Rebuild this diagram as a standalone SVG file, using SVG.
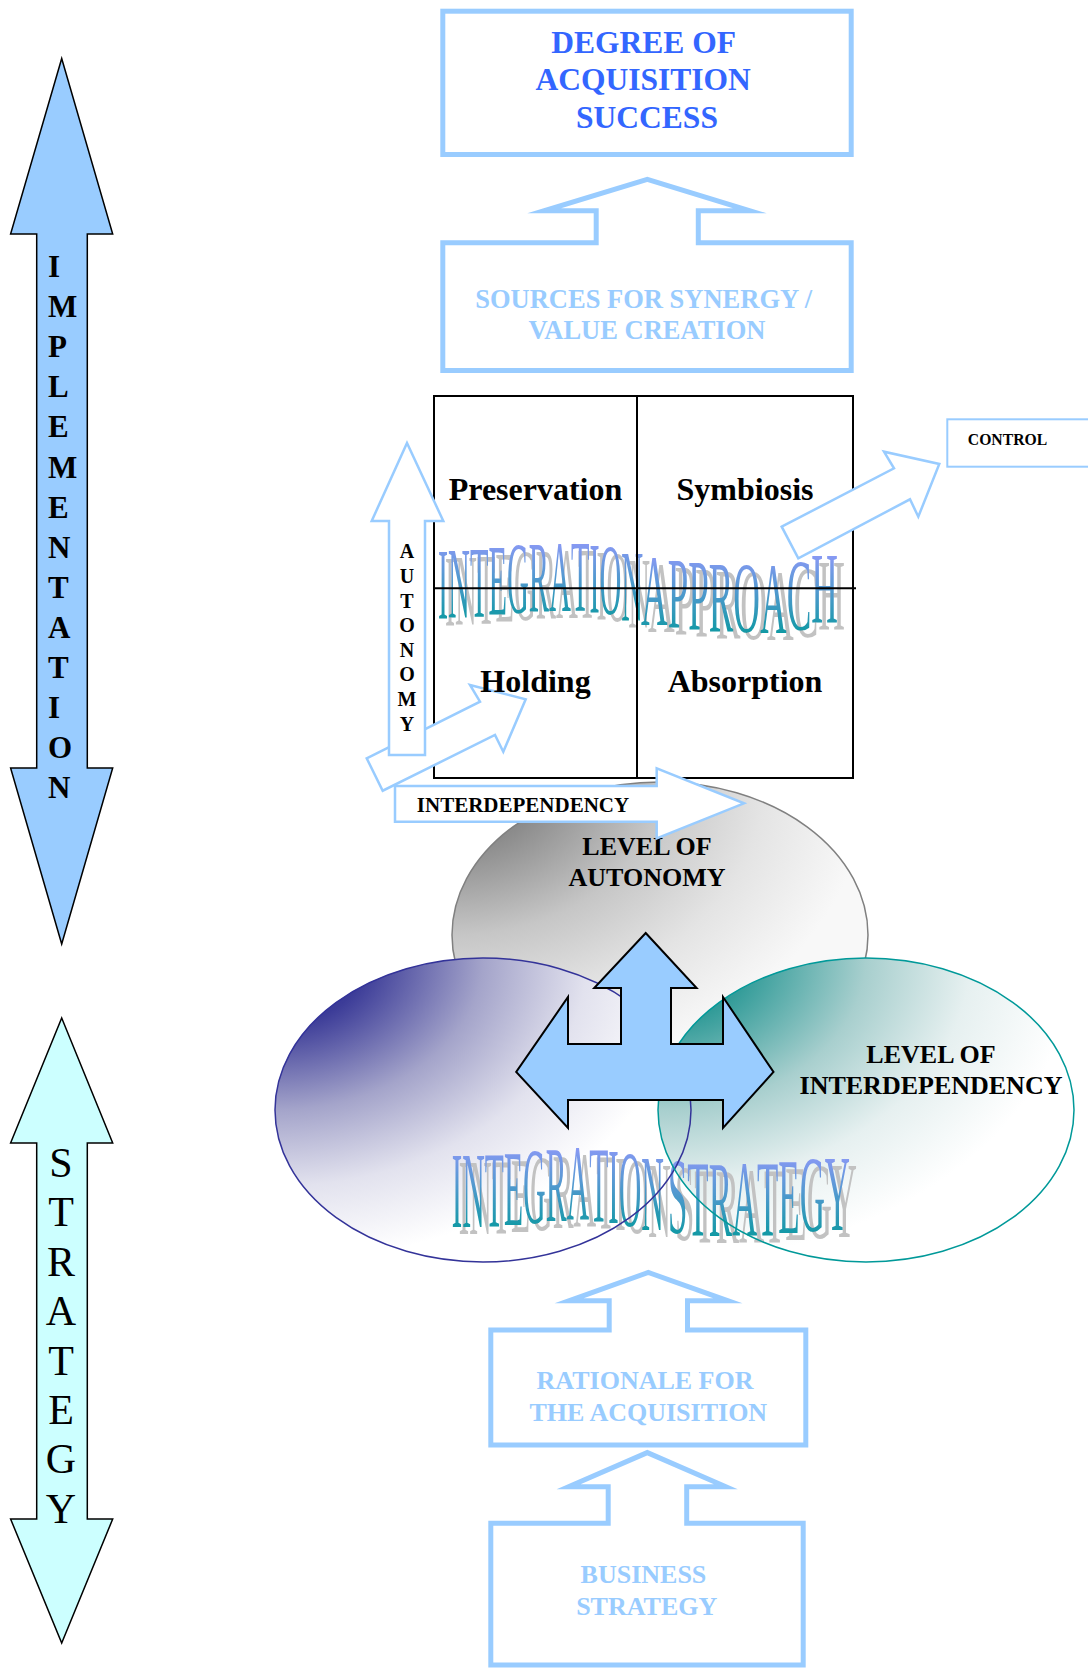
<svg xmlns="http://www.w3.org/2000/svg" width="1088" height="1668" viewBox="0 0 1088 1668">
<style>
  text{font-family:"Liberation Serif","Times New Roman",serif}
  .b{font-weight:bold}
  .mid{text-anchor:middle}
  .thick{fill:#fff;stroke:#99CCFF;stroke-width:5;stroke-miterlimit:12}
  .hollow{fill:#fff;stroke:#99CCFF;stroke-width:2.5;stroke-miterlimit:10}
  .grid{fill:none;stroke:#000;stroke-width:2}
  .cell{font-size:32px;font-weight:bold;text-anchor:middle;fill:#000}
  .pale{fill:#99CCFF;font-weight:bold;text-anchor:middle}
  .lvl{font-size:26px;font-weight:bold;text-anchor:middle;fill:#000}
  .wa{fill:url(#waGrad)}
</style>
<defs>
  <linearGradient id="waGrad" x1="0" y1="0" x2="0" y2="1">
    <stop offset="0.1" stop-color="#9999FF"/>
    <stop offset="0.9" stop-color="#009999"/>
  </linearGradient>
  <filter id="waShadow">
    <feOffset in="SourceAlpha" dx="7" dy="7" result="off"/>
    <feFlood flood-color="#C2C2C2"/>
    <feComposite in2="off" operator="in" result="sh"/>
    <feMerge><feMergeNode in="sh"/><feMergeNode in="SourceGraphic"/></feMerge>
  </filter>
  <radialGradient id="gTop" cx="0" cy="0" r="1" fx="0" fy="0">
    <stop offset="0" stop-color="#6E6E6E"/>
    <stop offset="0.22" stop-color="#8C8C8C"/>
    <stop offset="0.5" stop-color="#C6C6C6"/>
    <stop offset="0.75" stop-color="#E4E4E4"/>
    <stop offset="1" stop-color="#F8F8F8"/>
  </radialGradient>
  <radialGradient id="gLeft" cx="0" cy="0" r="1" fx="0" fy="0">
    <stop offset="0" stop-color="#2A2A8C"/>
    <stop offset="0.22" stop-color="#3C3C98"/>
    <stop offset="0.5" stop-color="#A4A4CA"/>
    <stop offset="0.75" stop-color="#E2E2EE"/>
    <stop offset="1" stop-color="#FFFFFF"/>
  </radialGradient>
  <radialGradient id="gRight" cx="0" cy="0" r="1" fx="0" fy="0">
    <stop offset="0" stop-color="#008C8A"/>
    <stop offset="0.22" stop-color="#339C99"/>
    <stop offset="0.5" stop-color="#A8CFCE"/>
    <stop offset="0.75" stop-color="#E6F0F0"/>
    <stop offset="1" stop-color="#FFFFFF"/>
  </radialGradient>
</defs>

<g id="implementation-arrow">
  <polygon points="61.7,58.5 112.7,234 87.3,234 87.3,768 112.7,768 61.7,944 10.6,768 36.7,768 36.7,234 10.6,234" fill="#99CCFF" stroke="#000" stroke-width="1.5"/>
  <text class="b" font-size="31" fill="#000" x="48 48 48 48 48 48 48 48 48 48 48 48 48 48" y="277 317.1 357.2 397.3 437.4 477.5 517.6 557.7 597.8 637.9 678 718.1 758.2 798.3">IMPLEMENTATION</text>
</g>

<g id="strategy-arrow">
  <polygon points="61.7,1018 112.7,1143 87.3,1143 87.3,1519 112.7,1519 61.7,1643 10.6,1519 36.7,1519 36.7,1143 10.6,1143" fill="#CCFFFF" stroke="#000" stroke-width="1.5"/>
  <text class="mid" font-size="42" fill="#000" x="61 61 61 61 61 61 61 61" y="1177 1226.4 1275.8 1325.2 1374.6 1424 1473.4 1522.8">STRATEGY</text>
</g>

<g id="degree-of-acquisition-success">
  <rect x="442.8" y="11.2" width="408.4" height="143.3" class="thick"/>
  <text class="b mid" font-size="31.5" fill="#3366FF">
    <tspan x="647" y="53.3">DEGREE OF</tspan>
    <tspan x="647" y="90">ACQUISITION</tspan>
    <tspan x="647" y="127.7">SUCCESS</tspan>
  </text>
</g>

<g id="sources-for-synergy">
  <path class="thick" d="M442.8 242.8 H596.2 V210.8 H544 L647.3 179.3 L750 210.8 H698.3 V242.8 H851.2 V370.5 H442.8 Z"/>
  <text class="pale" font-size="26.5">
    <tspan x="647" y="308.3">SOURCES FOR SYNERGY /</tspan>
    <tspan x="647" y="339.3">VALUE CREATION</tspan>
  </text>
</g>

<g id="rationale-for-the-acquisition">
  <path class="thick" d="M490.8 1330 H609.2 V1300.8 H569 L648.3 1272.5 L728 1300.8 H687.5 V1330 H805.8 V1445 H490.8 Z"/>
  <text class="pale" font-size="26">
    <tspan x="648.3" y="1389.3">RATIONALE FOR</tspan>
    <tspan x="648.3" y="1420.7">THE ACQUISITION</tspan>
  </text>
</g>

<g id="business-strategy">
  <path class="thick" d="M490.8 1523.3 H608.2 V1486.8 H568.6 L647.3 1452.6 L725.8 1486.8 H686.7 V1523.3 H803.2 V1665 H490.8 Z"/>
  <text class="pale" font-size="26">
    <tspan x="646.7" y="1583.3">BUSINESS</tspan>
    <tspan x="646.7" y="1615">STRATEGY</tspan>
  </text>
</g>

<g id="level-of-autonomy">
  <ellipse cx="660" cy="935" rx="208" ry="153" fill="url(#gTop)" stroke="#808080" stroke-width="1.5"/>
</g>
<g id="integration-strategy-left">
  <ellipse cx="483" cy="1110" rx="208" ry="152" fill="url(#gLeft)"/>
</g>
<g id="level-of-interdependency">
  <ellipse cx="866" cy="1110" rx="208" ry="152" fill="url(#gRight)"/>
</g>

<g id="integration-strategy-title" filter="url(#waShadow)">
  <text class="wa" font-size="108" transform="scale(0.29,1)" x="1557.6" y="1226.7 1227 1226.5 1225 1223 1221 1220 1221.5 1223.5 1226.5 1230">INTEGRATION</text>
  <text class="wa" font-size="108" transform="scale(0.3227,1)" x="2070" y="1233.5 1235 1236.5 1236.5 1235 1233 1231 1230">STRATEGY</text>
</g>

<g id="ellipse-outlines">
  <ellipse cx="483" cy="1110" rx="208" ry="152" fill="none" stroke="#333399" stroke-width="1.5"/>
  <ellipse cx="866" cy="1110" rx="208" ry="152" fill="none" stroke="#009999" stroke-width="1.5"/>
</g>

<g id="three-way-arrow">
  <polygon points="645.7,933 696.6,988 671,988 671,1044 723,1044 723,997 773.5,1072 723,1128 723,1100 568,1100 568,1128 516.2,1072 568,997 568,1044 621,1044 621,988 594.2,988" fill="#99CCFF" stroke="#000" stroke-width="2"/>
</g>

<g id="level-labels">
  <text class="lvl"><tspan x="647" y="855">LEVEL OF</tspan><tspan x="647" y="886">AUTONOMY</tspan></text>
  <text class="lvl"><tspan x="931" y="1063.3">LEVEL OF</tspan><tspan x="931" y="1094.3">INTERDEPENDENCY</tspan></text>
</g>

<g id="integration-approach-grid">
  <rect x="434" y="396" width="419" height="382" fill="#fff"/>
  <g filter="url(#waShadow)">
    <text class="wa" font-size="102" transform="scale(0.297,1)" x="1474.7" y="619 618 617 615 613.5 612 611 611.5 613 615.5 621">INTEGRATION</text>
    <text class="wa" font-size="102" transform="scale(0.362,1)" x="1770.7" y="625 628 630 632 633.5 633 630 623">APPROACH</text>
  </g>
  <rect x="434" y="396" width="419" height="382" class="grid"/>
  <line x1="637" y1="396" x2="637" y2="778" class="grid"/>
  <line x1="434" y1="588.3" x2="856" y2="588.3" class="grid"/>
</g>

<g id="connectors">
  <polygon class="hollow" points="366.7,758.3 480,701.7 470,685 525.7,699.3 503.3,751.7 495,735 382.7,790.7"/>
  <polygon class="hollow" points="407,443 443.3,521 425,521 425,755 389,755 389,521 371.7,521"/>
  <polygon class="hollow" points="395,786 656.7,786 656.7,768.3 744,803.3 656.7,838.3 656.7,821.7 395,821.7"/>
  <polygon class="hollow" points="781.7,526.7 894,468.3 884,451.7 939.3,464 918.3,516.7 910,499.3 798.3,558.3"/>
</g>

<g id="connector-labels">
  <text class="b mid" font-size="20" fill="#000" x="407 407 407 407 407 407 407 407" y="558.3 582.9 607.5 632.1 656.7 681.3 705.9 730.5">AUTONOMY</text>
  <text class="b mid" font-size="21" fill="#000" x="523" y="811.7">INTERDEPENDENCY</text>
</g>

<g id="preservation"><text class="cell" x="535.5" y="500">Preservation</text></g>
<g id="symbiosis"><text class="cell" x="745" y="500">Symbiosis</text></g>
<g id="holding"><text class="cell" x="535.5" y="692">Holding</text></g>
<g id="absorption"><text class="cell" x="745" y="692">Absorption</text></g>

<g id="control">
  <rect x="947.3" y="419.3" width="150" height="47.4" fill="#fff" stroke="#99CCFF" stroke-width="2"/>
  <text class="b mid" font-size="15.7" fill="#000" x="1007.5" y="445">CONTROL</text>
</g>
</svg>
